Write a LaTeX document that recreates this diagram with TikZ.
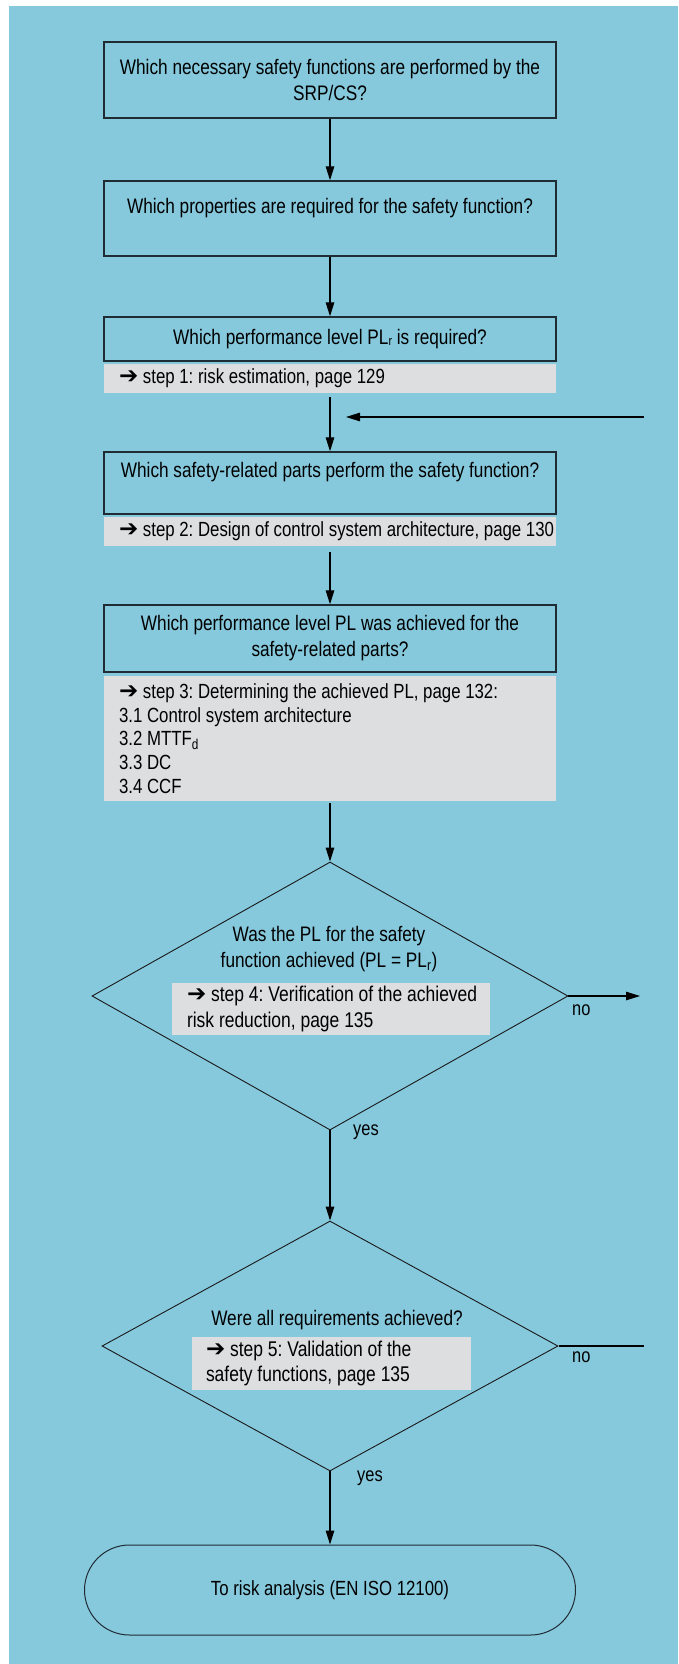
\documentclass[tikz,border=0pt]{standalone}
\usepackage{fontspec}
\setmainfont{Liberation Sans}[FakeStretch=0.82]
\newfontfamily\arrowfont{DejaVu Sans}
\usetikzlibrary{shapes.geometric,arrows.meta}
\definecolor{bgblue}{HTML}{86C9DD}
\definecolor{graybg}{HTML}{DCDEE0}
\definecolor{boxline}{HTML}{1F2C33}
\newcommand{\harr}{{\arrowfont\fontsize{23}{20}\selectfont ➔}}
\newcommand{\smallr}{\raisebox{-1.5pt}{\fontsize{13}{13}\selectfont r}}
\newcommand{\gline}[1]{\mbox{\spaceskip=0pt\xspaceskip=0pt #1}}
\frenchspacing
\begin{document}
\begin{tikzpicture}[x=1pt,y=-1pt,
  qbox/.style={draw=boxline, line width=1.4pt, minimum width=452pt, inner sep=0pt,
    align=center, font=\frenchspacing\fontsize{21}{26}\selectfont},
  graybox/.style={fill=graybg, minimum width=452pt, inner xsep=15pt, inner ysep=0pt,
    text width=422pt, align=left, font=\frenchspacing\fontsize{20.5}{25.5}\selectfont},
  dia/.style={draw=black!90, line width=0.9pt, shape=diamond, inner sep=0pt},
  arr/.style={line width=1.1pt, -{Triangle[length=14pt,width=8.5pt]}},
  lbl/.style={font=\fontsize{20}{24}\selectfont, inner sep=0pt},
  dtext/.style={font=\frenchspacing\fontsize{21}{26}\selectfont, align=center, inner sep=0pt}
]
\useasboundingbox (0,0) rectangle (678,1664);
\fill[white] (0,0) rectangle (678,1664);
\fill[bgblue] (9,6) rectangle (678,1664);

% boxes
\node[qbox, minimum height=76pt] (b1) at (330,80)
  {Which necessary safety functions are performed by the\\SRP/CS?};
\node[qbox, minimum height=75pt] (b2) at (330,218.5)
  {Which properties are required for the safety function?\\\mbox{}};
\node[qbox, minimum height=44pt] (b3) at (330,339)
  {Which performance level PL\smallr{} is required?};
\node[graybox, minimum height=29pt] (g1) at (330,378.5)
  {\gline{\harr\ step 1: risk estimation, page 129}};
\node[qbox, minimum height=62pt] (b4) at (330,483)
  {Which safety-related parts perform the safety function?\\\mbox{}};
\node[graybox, minimum height=29pt] (g2) at (330,531.5)
  {\gline{\harr\ step 2: Design of control system architecture, page 130}};
\node[qbox, minimum height=67pt] (b5) at (330,638.5)
  {Which performance level PL was achieved for the\\safety-related parts?};
\node[graybox, minimum height=125pt, font=\frenchspacing\fontsize{20.5}{23.7}\selectfont] (g3) at (330,738.5)
  {\gline{\harr\ step 3: Determining the achieved PL, page 132:}\\\gline{3.1 Control system architecture}\\\gline{3.2 MTTF\textsubscript{d}}\\\gline{3.3 DC}\\\gline{3.4 CCF}};

% first decision
\node[dia, minimum width=476pt, minimum height=268pt] (d1) at (330,996) {};
\node[dtext] (t1) at (329,949)
  {Was the PL for the safety\\function achieved (PL = PL\textsubscript{r})};
\node[graybox, minimum width=318pt, text width=288pt, minimum height=52pt,
  font=\frenchspacing\fontsize{21.3}{26}\selectfont] (g4) at (331,1009)
  {\gline{\harr\ step 4: Verification of the achieved}\\\gline{risk reduction, page 135}};

% second decision
\node[dia, minimum width=456pt, minimum height=250pt] (d2) at (330,1346) {};
\node[dtext] (t2) at (337,1320) {Were all requirements achieved?};
\node[graybox, minimum width=279pt, text width=251pt, inner xsep=14pt, minimum height=53pt,
  font=\frenchspacing\fontsize{21.3}{25}\selectfont] (g5) at (331.5,1363.5)
  {\gline{\harr\ step 5: Validation of the}\\\gline{safety functions, page 135}};

% terminal
\node[draw=boxline, line width=1pt, rounded corners=45pt, minimum width=491pt,
  minimum height=90pt, inner sep=0pt, font=\fontsize{20.5}{24}\selectfont] (term) at (330,1590)
  {To risk analysis (EN ISO 12100)};

% labels
\node[lbl, anchor=mid west] (no1) at (572,1013) {no};
\node[lbl, anchor=mid west] (yes1) at (353,1133) {yes};
\node[lbl, anchor=mid west] (no2) at (572,1360) {no};
\node[lbl, anchor=mid west] (yes2) at (357,1479) {yes};

% connectors
\draw[arr] (b1.south) -- (b2.north);
\draw[arr] (b2.south) -- (b3.north);
\draw[arr, shorten <=4pt] (g1.south) -- (b4.north);
\draw[arr, shorten <=6pt] (g2.south) -- (b5.north);
\draw[arr, shorten <=2pt] (g3.south) -- (d1.north);
\draw[arr] (d1.south) -- (d2.north);
\draw[arr] (d2.south) -- (term.north);

\coordinate (back) at (644,417);
\coordinate (backend) at (346,417);
\draw[arr] (back) -- (backend);

\coordinate (no1end) at (640,996);
\draw[arr] (d1.east) -- (no1end);
\coordinate (no2end) at (644,1346);
\draw[line width=1.1pt, shorten <=1pt] (d2.east) -- (no2end);
\end{tikzpicture}
\end{document}
